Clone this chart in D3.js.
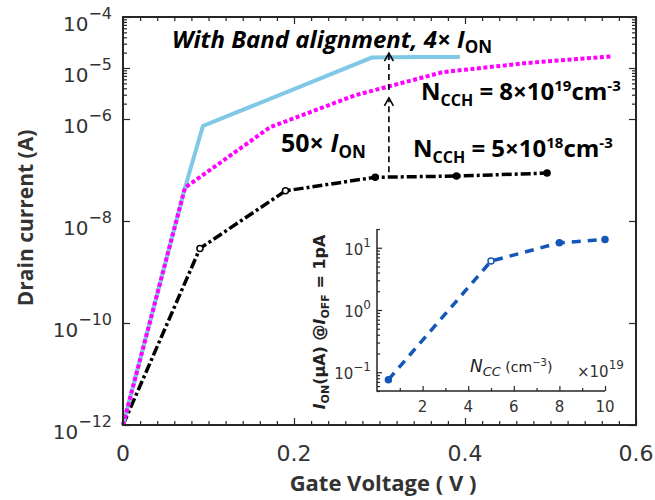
<!DOCTYPE html>
<html>
<head>
<meta charset="utf-8">
<script src="https://cdn.jsdelivr.net/npm/d3@7"></script>
<style>
  body { margin: 0; background: #fff; }
  svg { display: block; }
</style>
</head>
<body>
<div id="chart"></div>
<script>
// Main plot: drain current vs gate voltage (log scale)
const vgCyan = [0, 0.0725, 0.0935, 0.291, 0.345, 0.394]
const idCyan = [1e-12, 4.5e-8, 7.3e-7, 1.6e-5, 1.65e-5, 1.65e-5]

const vgMagenta = [0, 0.0725, 0.172, 0.271, 0.374, 0.472, 0.572]
const idMagenta = [1e-12, 4.5e-8, 6.9e-7, 2.9e-6, 8.3e-6, 1.25e-5, 1.7e-5]

const vgBlack = [0, 0.09, 0.19, 0.295, 0.39, 0.496]
const idBlack = [1e-12, 2.9e-9, 3.9e-8, 7.2e-8, 7.6e-8, 8.7e-8]

const xTicks = [0, 0.2, 0.4, 0.6]
const xTickLabels = ['0', '0.2', '0.4', '0.6']
const yTickExps = [-4, -5, -6, -8, -10, -12]

// the two "x improvement" arrows
const arrowVg = 0.311
const arrowFrom = [9e-8, 3.7e-6]
const arrowTo = [2.6e-6, 1.96e-5]

// Inset: I_ON vs channel doping
const nccInset = [0.5, 5, 8, 10]
const ionInset = [0.076, 6.1, 12, 13.6]
const insetXTicks = [2, 4, 6, 8, 10]
const insetYTickExps = [1, 0, -1]

const width = 655
const height = 500
const margin = ({top: 17, right: 19, bottom: 75, left: 123})

const svg = d3.select('#chart').append('svg').attr('width', width).attr('height', height)

const x = d3.scaleLinear()
  .domain([0, 0.6])
  .range([margin.left, width - margin.right])

const y = d3.scaleLog()
  .domain([1e-12, 1e-4])
  .range([height - margin.bottom, margin.top])

const axisColor = '#262626'
const labelColor = '#333'

// minor ticks on x every 0.02, minor log ticks only in the top two decades
const xMinor = d3.range(0, 31).map(i => i * 0.02).filter(v => Math.abs(v * 5 - Math.round(v * 5)) > 1e-6)
const yMinor = []
;[-6, -5].forEach(e => { for (let k = 2; k <= 9; k++) yMinor.push(k * 10 ** e) })

const tickG = (axis, tx, ty) => svg.append('g')
  .attr('transform', `translate(${tx},${ty})`)
  .call(axis)
  .call(g => g.select('.domain').remove())
  .call(g => g.selectAll('.tick line').attr('stroke', axisColor).attr('stroke-width', 1.2))

// bottom / top ticks
tickG(d3.axisBottom(x).tickValues(xTicks).tickSize(-7).tickFormat(''), 0, y.range()[0])
tickG(d3.axisBottom(x).tickValues(xMinor).tickSize(-4).tickFormat(''), 0, y.range()[0])
tickG(d3.axisTop(x).tickValues(xTicks).tickSize(-7).tickFormat(''), 0, y.range()[1])
tickG(d3.axisTop(x).tickValues(xMinor).tickSize(-4).tickFormat(''), 0, y.range()[1])
// left / right ticks
tickG(d3.axisLeft(y).tickValues(yTickExps.map(e => 10 ** e)).tickSize(-7).tickFormat(''), x.range()[0], 0)
tickG(d3.axisLeft(y).tickValues(yMinor).tickSize(-4).tickFormat(''), x.range()[0], 0)
tickG(d3.axisRight(y).tickValues(yTickExps.map(e => 10 ** e)).tickSize(-7).tickFormat(''), x.range()[1], 0)
tickG(d3.axisRight(y).tickValues(yMinor).tickSize(-4).tickFormat(''), x.range()[1], 0)

// x tick labels
svg.append('g')
  .selectAll('text')
  .data(xTicks)
  .enter().append('text')
    .attr('x', d => x(d))
    .attr('y', 461)
    .attr('text-anchor', 'middle')
    .attr('font-family', 'DejaVu Sans')
    .attr('font-size', 22)
    .attr('fill', labelColor)
    .text((d, i) => xTickLabels[i])

// y tick labels: 10^e
const yLab = svg.append('g')
  .selectAll('text')
  .data(yTickExps)
  .enter().append('text')
    .attr('x', 112)
    .attr('y', d => y(10 ** d) + 14)
    .attr('text-anchor', 'end')
    .attr('font-family', 'DejaVu Sans')
    .attr('font-size', 20)
    .attr('fill', labelColor)
yLab.append('tspan').text('10')
yLab.append('tspan').attr('dy', -12).attr('font-size', 16).text(d => '\u2212' + Math.abs(d))

// axis titles
svg.append('text')
  .attr('x', 383)
  .attr('y', 491)
  .attr('text-anchor', 'middle')
  .attr('font-family', 'Open Sans')
  .attr('font-weight', 'bold')
  .attr('font-size', 22)
  .attr('fill', labelColor)
  .text('Gate Voltage ( V )')

svg.append('text')
  .attr('transform', 'translate(33,218) rotate(-90)')
  .attr('text-anchor', 'middle')
  .attr('font-family', 'Open Sans')
  .attr('font-weight', 'bold')
  .attr('font-size', 21)
  .attr('fill', labelColor)
  .text('Drain current (A)')

// curves
const line = d3.line().x(d => x(d[0])).y(d => y(d[1]))
const plot = svg.append('g')

plot.append('path')
  .datum(d3.zip(vgBlack, idBlack))
  .attr('fill', 'none')
  .attr('stroke', '#000')
  .attr('stroke-width', 3.5)
  .attr('stroke-dasharray', '10,3,3,3')
  .attr('d', line)

plot.selectAll('.mk')
  .data(d3.zip(vgBlack, idBlack).slice(1))
  .enter().append('circle')
    .attr('cx', d => x(d[0]))
    .attr('cy', d => y(d[1]))
    .attr('r', 3)
    .attr('fill', (d, i) => i < 2 ? '#fff' : '#000')
    .attr('stroke', '#000')
    .attr('stroke-width', 1.5)

plot.append('path')
  .datum(d3.zip(vgCyan, idCyan))
  .attr('fill', 'none')
  .attr('stroke', '#7fc8e6')
  .attr('stroke-width', 4)
  .attr('d', line)

plot.append('path')
  .datum(d3.zip(vgMagenta, idMagenta))
  .attr('fill', 'none')
  .attr('stroke', '#ff00ff')
  .attr('stroke-width', 4)
  .attr('stroke-dasharray', '4,2.5')
  .attr('d', line)

// dashed arrows
arrowFrom.forEach((from, i) => {
  const ax = x(arrowVg)
  const y0 = y(from)
  const y1 = y(arrowTo[i])
  plot.append('line')
    .attr('x1', ax).attr('x2', ax)
    .attr('y1', y0).attr('y2', y1 + 2)
    .attr('stroke', '#000')
    .attr('stroke-width', 1.6)
    .attr('stroke-dasharray', '6,4')
  plot.append('path')
    .attr('d', `M${ax - 4.5},${y1 + 8} L${ax},${y1} L${ax + 4.5},${y1 + 8}`)
    .attr('fill', 'none')
    .attr('stroke', '#000')
    .attr('stroke-width', 1.6)
})

// annotations
const ann = svg.append('g')
  .attr('font-family', 'Open Sans')
  .attr('font-weight', 'bold')
  .attr('fill', '#000')

const t1 = ann.append('text').attr('x', 172).attr('y', 48).attr('font-size', 24).attr('font-style', 'italic')
t1.append('tspan').text('With Band alignment, 4\u00d7 ')
t1.append('tspan').text('I')
t1.append('tspan').attr('dy', 5).attr('font-size', 17).attr('font-style', 'normal').text('ON')

const t3 = ann.append('text').attr('x', 281).attr('y', 152).attr('font-size', 25)
t3.append('tspan').text('50\u00d7 ')
t3.append('tspan').attr('font-style', 'italic').text('I')
t3.append('tspan').attr('dy', 6).attr('font-size', 17).text('ON')

const ncch = (tx, ty, mant, exp) => {
  const t = ann.append('text').attr('x', tx).attr('y', ty).attr('font-size', 24)
  t.append('tspan').text('N')
  t.append('tspan').attr('dy', 6).attr('font-size', 16).text('CCH')
  t.append('tspan').attr('dy', -6).text(` = ${mant}\u00d710`)
  t.append('tspan').attr('dy', -9).attr('font-size', 15).text(exp)
  t.append('tspan').attr('dy', 9).text('cm')
  t.append('tspan').attr('dy', -9).attr('font-size', 15).text('-3')
}
ncch(421, 100, 8, '19')
ncch(413, 157, 5, '18')

// frame
svg.append('rect')
  .attr('x', x.range()[0])
  .attr('y', y.range()[1])
  .attr('width', x.range()[1] - x.range()[0])
  .attr('height', y.range()[0] - y.range()[1])
  .attr('fill', 'none')
  .attr('stroke', axisColor)
  .attr('stroke-width', 2)

// ---------- inset ----------
const xi = d3.scaleLinear().domain([0, 10]).range([377, 605])
const yi = d3.scaleLog().domain([0.05, 20]).range([391, 229])

const insetXMinor = d3.range(1, 11).filter(v => v % 2 !== 0)
const insetYMinor = []
;[-2, -1, 0, 1].forEach(e => { for (let k = 2; k <= 9; k++) { const v = k * 10 ** e; if (v >= 0.05 && v <= 20) insetYMinor.push(v) } })

tickG(d3.axisBottom(xi).tickValues(insetXTicks).tickSize(-5).tickFormat(''), 0, 391)
tickG(d3.axisBottom(xi).tickValues(insetXMinor).tickSize(-3).tickFormat(''), 0, 391)
tickG(d3.axisLeft(yi).tickValues(insetYTickExps.map(e => 10 ** e)).tickSize(-5).tickFormat(''), 377, 0)
tickG(d3.axisLeft(yi).tickValues(insetYMinor).tickSize(-3).tickFormat(''), 377, 0)

svg.append('path')
  .attr('d', `M377,${yi.range()[1]} V391 H605`)
  .attr('fill', 'none')
  .attr('stroke', axisColor)
  .attr('stroke-width', 1.5)

svg.append('g')
  .selectAll('text')
  .data(insetXTicks)
  .enter().append('text')
    .attr('x', d => xi(d))
    .attr('y', 412)
    .attr('text-anchor', 'middle')
    .attr('font-family', 'DejaVu Sans')
    .attr('font-size', 15)
    .attr('fill', labelColor)
    .text(d => d)

const yiLab = svg.append('g')
  .selectAll('text')
  .data(insetYTickExps)
  .enter().append('text')
    .attr('x', 371)
    .attr('y', d => yi(10 ** d) + 7)
    .attr('text-anchor', 'end')
    .attr('font-family', 'DejaVu Sans')
    .attr('font-size', 15)
    .attr('fill', labelColor)
yiLab.append('tspan').text('10')
yiLab.append('tspan').attr('dy', -8).attr('font-size', 12).text(d => d < 0 ? '\u2212' + Math.abs(d) : d)

const ncc = svg.append('text')
  .attr('x', 470).attr('y', 372)
  .attr('font-family', 'DejaVu Sans')
  .attr('font-size', 17)
  .attr('fill', '#222')
ncc.append('tspan').attr('font-style', 'italic').text('N')
ncc.append('tspan').attr('font-style', 'italic').attr('dy', 4).attr('font-size', 13).text('CC')
ncc.append('tspan').attr('dy', -4).attr('font-size', 14).text(' (cm')
ncc.append('tspan').attr('dy', -6).attr('font-size', 10).text('\u22123')
ncc.append('tspan').attr('dy', 6).attr('font-size', 14).text(')')

const mult = svg.append('text')
  .attr('x', 577).attr('y', 377)
  .attr('font-family', 'DejaVu Sans')
  .attr('font-size', 15)
  .attr('fill', labelColor)
mult.append('tspan').text('\u00d710')
mult.append('tspan').attr('dy', -8).attr('font-size', 12).text('19')

const iyl = svg.append('text')
  .attr('transform', 'translate(325,322) rotate(-90)')
  .attr('text-anchor', 'middle')
  .attr('font-family', 'DejaVu Sans')
  .attr('font-weight', 'bold')
  .attr('font-size', 16)
  .attr('fill', '#222')
iyl.append('tspan').attr('font-style', 'italic').text('I')
iyl.append('tspan').attr('dy', 4).attr('font-size', 11).text('ON')
iyl.append('tspan').attr('dy', -4).text('(\u03bcA) @')
iyl.append('tspan').attr('font-style', 'italic').text('I')
iyl.append('tspan').attr('dy', 4).attr('font-size', 11).text('OFF')
iyl.append('tspan').attr('dy', -4).text(' = 1pA')

const insetLine = d3.line().x(d => xi(d[0])).y(d => yi(d[1]))
svg.append('path')
  .datum(d3.zip(nccInset, ionInset))
  .attr('fill', 'none')
  .attr('stroke', '#1456b8')
  .attr('stroke-width', 3.5)
  .attr('stroke-dasharray', '9,7')
  .attr('d', insetLine)

svg.append('g')
  .selectAll('circle')
  .data(d3.zip(nccInset, ionInset))
  .enter().append('circle')
    .attr('cx', d => xi(d[0]))
    .attr('cy', d => yi(d[1]))
    .attr('r', 3)
    .attr('fill', (d, i) => i === 1 ? '#fff' : '#1456b8')
    .attr('stroke', '#1456b8')
    .attr('stroke-width', 1.5)
</script>
</body>
</html>
